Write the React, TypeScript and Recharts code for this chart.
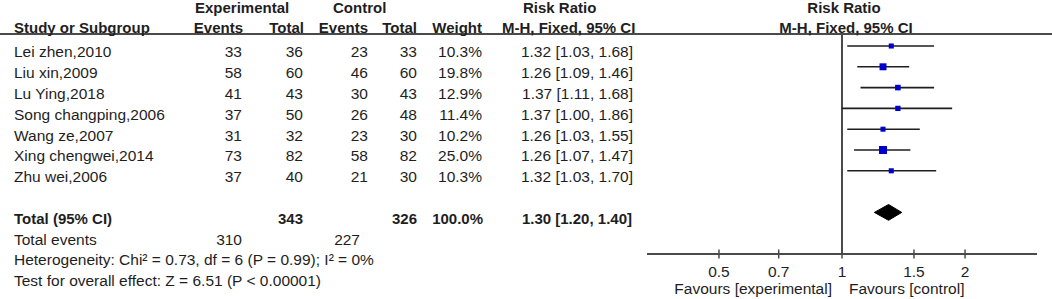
import React from 'react';
import { ComposedChart, Scatter, Area, ErrorBar, XAxis, YAxis, ReferenceLine } from 'recharts';

const studies = ['Lei zhen,2010', 'Liu xin,2009', 'Lu Ying,2018', 'Song changping,2006', 'Wang ze,2007', 'Xing chengwei,2014', 'Zhu wei,2006'];
const expEvents = [33, 58, 41, 37, 31, 73, 37];
const expTotal = [36, 60, 43, 50, 32, 82, 40];
const ctlEvents = [23, 46, 30, 26, 23, 58, 21];
const ctlTotal = [33, 60, 43, 48, 30, 82, 30];
const weights = [10.3, 19.8, 12.9, 11.4, 10.2, 25.0, 10.3];
const riskRatio = [1.32, 1.26, 1.37, 1.37, 1.26, 1.26, 1.32];
const ciLow = [1.03, 1.09, 1.11, 1.0, 1.03, 1.07, 1.03];
const ciHigh = [1.68, 1.46, 1.68, 1.86, 1.55, 1.47, 1.7];
// pooled estimate: [ratio, low, high]
const pooled = [1.3, 1.2, 1.4];
const totalEvents = [310, 227];
const totalN = [343, 326];
const axisTicks = [0.5, 0.7, 1, 1.5, 2];

const FONT = '"Liberation Sans", Arial, sans-serif';
const INK = '#1e1e1e';
const LINE = '#4a4a4a';
const TOTAL_ROW = 8;
const DIAMOND_H = 0.38;

const points = studies.map((name, i) => ({
    name,
    rr: riskRatio[i],
    row: i,
    w: weights[i],
    ci: [riskRatio[i] - ciLow[i], ciHigh[i] - riskRatio[i]],
}));

const diamond = [
    { rr: pooled[1], band: [TOTAL_ROW, TOTAL_ROW] },
    { rr: pooled[0], band: [TOTAL_ROW - DIAMOND_H, TOTAL_ROW + DIAMOND_H] },
    { rr: pooled[2], band: [TOTAL_ROW, TOTAL_ROW] },
];

const rowY = (i: number) => 57.3 + 20.8 * i;
const fmt = (v: number) => v.toFixed(2);

const Square = (p: any) => {
    const s = 3 + p.payload.w * 0.2;
    return <rect x={p.cx - s / 2} y={p.cy - s / 2} width={s} height={s} fill="#0000cc" />;
};

const Tick = (p: any) => (
    <g>
        <line x1={p.x} x2={p.x} y1={p.y - 4.5} y2={p.y + 4.5} stroke={LINE} strokeWidth={1.5} />
        <text x={p.x} y={p.y + 23} textAnchor="middle" fontSize={15.5} fontFamily={FONT} fill={INK}>
            {p.payload.value}
        </text>
    </g>
);

const T = ({ x, y, anchor = 'start', bold = false, children }: any) => (
    <text
        x={x}
        y={y}
        textAnchor={anchor}
        fontSize={bold ? 15 : 15.5}
        fontWeight={bold ? 'bold' : 'normal'}
        fontFamily={FONT}
        fill={INK}
    >
        {children}
    </text>
);

export default function App() {
    return (
        <div style={{ position: 'absolute', left: 0, top: 0, width: 1052, height: 299, background: '#fff' }}>
            <ComposedChart width={1052} height={299} margin={{ top: 34, right: 15, bottom: 15, left: 647 }}>
                <XAxis
                    type="number"
                    dataKey="rr"
                    scale="log"
                    domain={[1 / 3, 3]}
                    allowDataOverflow
                    ticks={axisTicks}
                    interval={0}
                    height={30}
                    tickSize={0}
                    tickMargin={0}
                    tickLine={false}
                    axisLine={{ stroke: LINE, strokeWidth: 2 }}
                    tick={<Tick />}
                />
                <YAxis type="number" dataKey="row" domain={[-0.577, 10]} reversed hide width={0} allowDataOverflow />
                <ReferenceLine x={1} stroke={LINE} strokeWidth={2} />
                <Area
                    data={diamond}
                    dataKey="band"
                    type="linear"
                    stroke="#000"
                    fill="#000"
                    fillOpacity={1}
                    dot={false}
                    activeDot={false}
                    isAnimationActive={false}
                />
                <Scatter data={points} shape={<Square />} isAnimationActive={false}>
                    <ErrorBar dataKey="ci" direction="x" width={0} stroke={INK} strokeWidth={1.6} />
                </Scatter>
            </ComposedChart>
            <svg width={1052} height={299} style={{ position: 'absolute', left: 0, top: 0, pointerEvents: 'none' }}>
                <line x1={0} x2={1052} y1={34} y2={34} stroke={LINE} strokeWidth={2} />

                <T x={195} y={12.5} bold>Experimental</T>
                <T x={333} y={12.5} bold>Control</T>
                <T x={523} y={12.5} bold>Risk Ratio</T>
                <T x={844} y={12.5} anchor="middle" bold>Risk Ratio</T>

                <T x={14} y={33} bold>Study or Subgroup</T>
                <T x={243} y={33} anchor="end" bold>Events</T>
                <T x={304} y={33} anchor="end" bold>Total</T>
                <T x={368} y={33} anchor="end" bold>Events</T>
                <T x={417} y={33} anchor="end" bold>Total</T>
                <T x={482} y={33} anchor="end" bold>Weight</T>
                <T x={502} y={33} bold>M-H, Fixed, 95% CI</T>
                <T x={846} y={33} anchor="middle" bold>M-H, Fixed, 95% CI</T>

                {studies.map((s, i) => (
                    <g key={s}>
                        <T x={14} y={rowY(i)}>{s}</T>
                        <T x={242} y={rowY(i)} anchor="end">{expEvents[i]}</T>
                        <T x={303} y={rowY(i)} anchor="end">{expTotal[i]}</T>
                        <T x={368} y={rowY(i)} anchor="end">{ctlEvents[i]}</T>
                        <T x={417} y={rowY(i)} anchor="end">{ctlTotal[i]}</T>
                        <T x={482} y={rowY(i)} anchor="end">{weights[i].toFixed(1)}%</T>
                        <T x={633} y={rowY(i)} anchor="end">
                            {fmt(riskRatio[i])} [{fmt(ciLow[i])}, {fmt(ciHigh[i])}]
                        </T>
                    </g>
                ))}

                <T x={14} y={rowY(8)} bold>Total (95% CI)</T>
                <T x={303} y={rowY(8)} anchor="end" bold>{totalN[0]}</T>
                <T x={417} y={rowY(8)} anchor="end" bold>{totalN[1]}</T>
                <T x={483} y={rowY(8)} anchor="end" bold>100.0%</T>
                <T x={632} y={rowY(8)} anchor="end" bold>
                    {fmt(pooled[0])} [{fmt(pooled[1])}, {fmt(pooled[2])}]
                </T>

                <T x={14} y={rowY(9)}>Total events</T>
                <T x={242} y={rowY(9)} anchor="end">{totalEvents[0]}</T>
                <T x={360} y={rowY(9)} anchor="end">{totalEvents[1]}</T>
                <T x={14} y={rowY(10)}>Heterogeneity: Chi² = 0.73, df = 6 (P = 0.99); I² = 0%</T>
                <T x={14} y={rowY(11)}>Test for overall effect: Z = 6.51 (P &lt; 0.00001)</T>

                <T x={832} y={294} anchor="end">Favours [experimental]</T>
                <T x={849} y={294}>Favours [control]</T>
            </svg>
        </div>
    );
}
